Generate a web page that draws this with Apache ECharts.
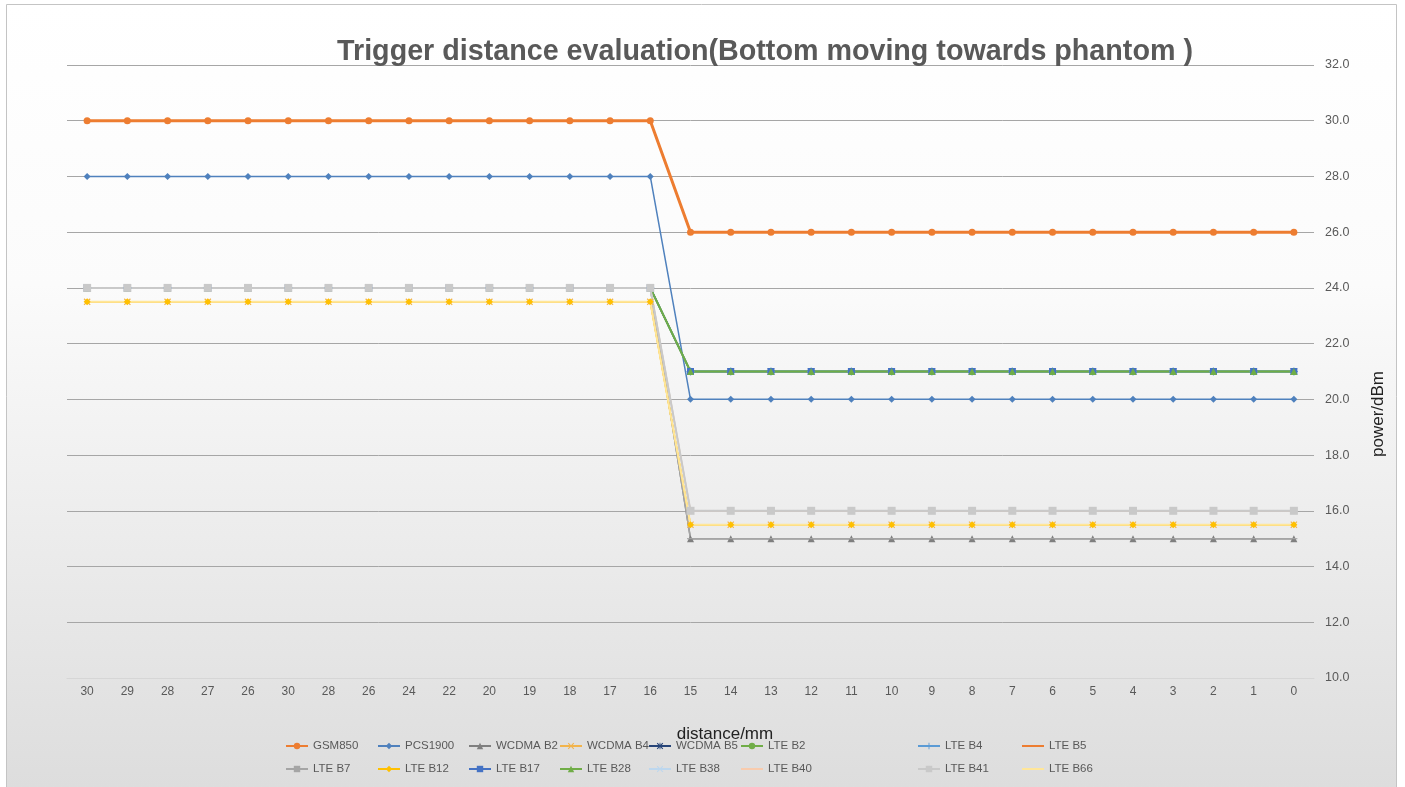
<!DOCTYPE html>
<html>
<head>
<meta charset="utf-8">
<script src="https://cdn.jsdelivr.net/npm/echarts@6/dist/echarts.min.js"></script>
<style>
html,body{margin:0;padding:0;background:#ffffff;}
#chart{width:1405px;height:787px;}
</style>
</head>
<body>
<div id="chart"></div>
<script>
var distanceLabels = ['30','29','28','27','26','30','28','26','24','22','20','19','18','17','16','15','14','13','12','11','10','9','8','7','6','5','4','3','2','1','0'];
var yTicks = [10, 12, 14, 16, 18, 20, 22, 24, 26, 28, 30, 32];

var gsm850   = [30,30,30,30,30,30,30,30,30,30,30,30,30,30,30,26,26,26,26,26,26,26,26,26,26,26,26,26,26,26,26];
var pcs1900  = [28,28,28,28,28,28,28,28,28,28,28,28,28,28,28,20,20,20,20,20,20,20,20,20,20,20,20,20,20,20,20];
var wcdmaB2  = [24,24,24,24,24,24,24,24,24,24,24,24,24,24,24,15,15,15,15,15,15,15,15,15,15,15,15,15,15,15,15];
var wcdmaB4  = [23.5,23.5,23.5,23.5,23.5,23.5,23.5,23.5,23.5,23.5,23.5,23.5,23.5,23.5,23.5,15.5,15.5,15.5,15.5,15.5,15.5,15.5,15.5,15.5,15.5,15.5,15.5,15.5,15.5,15.5,15.5];
var wcdmaB5  = [24,24,24,24,24,24,24,24,24,24,24,24,24,24,24,21,21,21,21,21,21,21,21,21,21,21,21,21,21,21,21];
var lteB2    = [24,24,24,24,24,24,24,24,24,24,24,24,24,24,24,21,21,21,21,21,21,21,21,21,21,21,21,21,21,21,21];
var lteB4    = [24,24,24,24,24,24,24,24,24,24,24,24,24,24,24,21,21,21,21,21,21,21,21,21,21,21,21,21,21,21,21];
var lteB5    = [30,30,30,30,30,30,30,30,30,30,30,30,30,30,30,26,26,26,26,26,26,26,26,26,26,26,26,26,26,26,26];
var lteB7    = [24,24,24,24,24,24,24,24,24,24,24,24,24,24,24,15,15,15,15,15,15,15,15,15,15,15,15,15,15,15,15];
var lteB12   = [23.5,23.5,23.5,23.5,23.5,23.5,23.5,23.5,23.5,23.5,23.5,23.5,23.5,23.5,23.5,15.5,15.5,15.5,15.5,15.5,15.5,15.5,15.5,15.5,15.5,15.5,15.5,15.5,15.5,15.5,15.5];
var lteB17   = [24,24,24,24,24,24,24,24,24,24,24,24,24,24,24,21,21,21,21,21,21,21,21,21,21,21,21,21,21,21,21];
var lteB28   = [24,24,24,24,24,24,24,24,24,24,24,24,24,24,24,21,21,21,21,21,21,21,21,21,21,21,21,21,21,21,21];
var lteB38   = [24,24,24,24,24,24,24,24,24,24,24,24,24,24,24,16,16,16,16,16,16,16,16,16,16,16,16,16,16,16,16];
var lteB40   = [24,24,24,24,24,24,24,24,24,24,24,24,24,24,24,16,16,16,16,16,16,16,16,16,16,16,16,16,16,16,16];
var lteB41   = [24,24,24,24,24,24,24,24,24,24,24,24,24,24,24,16,16,16,16,16,16,16,16,16,16,16,16,16,16,16,16];
var lteB66   = [23.5,23.5,23.5,23.5,23.5,23.5,23.5,23.5,23.5,23.5,23.5,23.5,23.5,23.5,23.5,15.5,15.5,15.5,15.5,15.5,15.5,15.5,15.5,15.5,15.5,15.5,15.5,15.5,15.5,15.5,15.5];

var seriesNames = ['GSM850','PCS1900','WCDMA B2','WCDMA B4','WCDMA B5','LTE B2','LTE B4','LTE B5',
                   'LTE B7','LTE B12','LTE B17','LTE B28','LTE B38','LTE B40','LTE B41','LTE B66'];
var seriesValues = [gsm850, pcs1900, wcdmaB2, wcdmaB4, wcdmaB5, lteB2, lteB4, lteB5,
                    lteB7, lteB12, lteB17, lteB28, lteB38, lteB40, lteB41, lteB66];

var X_PATH = 'path://M0,1.2L1.2,0L5,3.8L8.8,0L10,1.2L6.2,5L10,8.8L8.8,10L5,6.2L1.2,10L0,8.8L3.8,5Z';
var PLUS_PATH = 'path://M4.3,0H5.7V4.3H10V5.7H5.7V10H4.3V5.7H0V4.3H4.3Z';
var STAR_PATH = 'path://M0,1.2L1.2,0L5,3.8L8.8,0L10,1.2L6.2,5L10,8.8L8.8,10L5,6.2L1.2,10L0,8.8L3.8,5Z M4.4,0H5.6V10H4.4Z';
var DASH_PATH = 'path://M0,0H10V0V1.6H0Z';
var LINE_ICON = 'path://M0,0H11V1H0Z';

var styles = [
  {color:'#ED7D31', width:3,   symbol:'circle',  size:7},
  {color:'#4F81BD', width:1.5, symbol:'diamond', size:7},
  {color:'#7F7F7F', width:1.5, symbol:'triangle',size:7},
  {color:'#F2B44C', width:1.5, symbol:X_PATH,    size:7},
  {color:'#264478', width:1.5, symbol:STAR_PATH, size:7},
  {color:'#70AD47', width:2,   symbol:'circle',  size:6},
  {color:'#5B9BD5', width:1.5, symbol:PLUS_PATH, size:8},
  {color:'#ED7D31', width:1.5, symbol:'none',    size:0},
  {color:'#A5A5A5', width:1.5, symbol:DASH_PATH, size:7},
  {color:'#FFC000', width:1.5, symbol:'diamond', size:7},
  {color:'#4472C4', width:1.5, symbol:'rect',    size:7},
  {color:'#70AD47', width:2,   symbol:'triangle',size:7},
  {color:'#BDD7EE', width:1.5, symbol:X_PATH,    size:7},
  {color:'#F8CBAD', width:1.5, symbol:'none',    size:0},
  {color:'#C9C9C9', width:2,   symbol:'rect',    size:8},
  {color:'#FFE699', width:2,   symbol:'none',    size:0}
];

var series = seriesNames.map(function(n, i){
  var s = styles[i];
  return {
    name: n,
    type: 'line',
    data: seriesValues[i],
    symbol: s.symbol,
    symbolSize: s.size,
    symbolKeepAspect: true,
    showSymbol: s.symbol !== 'none',
    lineStyle: {color: s.color, width: s.width},
    itemStyle: {color: s.color, borderWidth: 0},
    emphasis: {disabled: true},
    animation: false
  };
});

function legendItem(i) {
  if (styles[i].symbol === 'none') {
    return {name: seriesNames[i], icon: LINE_ICON};
  }
  return {name: seriesNames[i]};
}

// legend: 8 columns x 2 rows
var colLefts = [285, 377, 468, 559, 648, 740, 917, 1022];
var legends = [];
for (var c = 0; c < 8; c++) {
  legends.push({
    left: colLefts[c],
    top: 740,
    orient: 'vertical',
    itemGap: 11,
    itemWidth: 22,
    itemHeight: 8,
    padding: 0,
    symbolKeepAspect: true,
    selectedMode: false,
    data: [legendItem(c), legendItem(c + 8)],
    textStyle: {color: '#595959', fontSize: 11.5, fontFamily: 'Liberation Sans, Arial, sans-serif'}
  });
}

var splitColors = yTicks.map(function(v, i){ return i === 0 ? '#d6d6d6' : '#a6a6a6'; });

var chart = echarts.init(document.getElementById('chart'), null, {renderer: 'canvas'});
chart.setOption({
  backgroundColor: 'transparent',
  animation: false,
  graphic: [{
    type: 'rect',
    z: -100,
    silent: true,
    shape: {x: 6.5, y: 4.5, width: 1390, height: 800},
    style: {
      fill: new echarts.graphic.LinearGradient(0, 0, 0, 1, [
        {offset: 0, color: '#ffffff'},
        {offset: 0.35, color: '#fbfbfb'},
        {offset: 1, color: '#dcdcdc'}
      ]),
      stroke: '#c4c4c4',
      lineWidth: 1
    }
  }, {
    type: 'text',
    silent: true,
    x: 725,
    y: 734,
    style: {
      text: 'distance/mm',
      fill: '#222222',
      font: '17px "Liberation Sans", Arial, sans-serif',
      textAlign: 'center',
      textVerticalAlign: 'middle'
    }
  }, {
    type: 'text',
    silent: true,
    x: 1378,
    y: 414,
    rotation: Math.PI / 2,
    style: {
      text: 'power/dBm',
      fill: '#222222',
      font: '17px "Liberation Sans", Arial, sans-serif',
      textAlign: 'center',
      textVerticalAlign: 'middle'
    }
  }],
  title: {
    text: 'Trigger distance evaluation(Bottom moving towards phantom )',
    left: 760,
    textAlign: 'center',
    top: 33,
    textStyle: {color: '#595959', fontSize: 28.7, fontWeight: 'bold', fontFamily: 'Liberation Sans, Arial, sans-serif'}
  },
  legend: legends,
  grid: {left: 67, right: 91, top: 65, bottom: 109, containLabel: false},
  xAxis: {
    type: 'category',
    data: distanceLabels,
    boundaryGap: true,
    axisLine: {show: true, lineStyle: {color: '#d6d6d6', width: 1}},
    axisTick: {show: false},
    axisLabel: {color: '#595959', fontSize: 12, margin: 8, interval: 0, fontFamily: 'Liberation Sans, Arial, sans-serif'},
    splitLine: {show: false}
  },
  yAxis: {
    type: 'value',
    position: 'right',
    min: 10,
    max: 32,
    interval: 2,
    axisLine: {show: false},
    axisTick: {show: false},
    axisLabel: {color: '#595959', fontSize: 12.5, margin: 11, fontFamily: 'Liberation Sans, Arial, sans-serif',
      formatter: function(v){ return v.toFixed(1); }},
    splitLine: {show: true, lineStyle: {color: splitColors, width: 1}}
  },
  series: series
});
</script>
</body>
</html>
